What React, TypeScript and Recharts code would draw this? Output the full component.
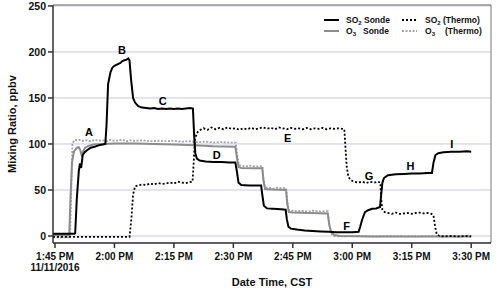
import { LineChart, Line, XAxis, YAxis, CartesianGrid, ReferenceLine, ReferenceDot, Label } from "recharts";

// minutes after 1:45 PM, ppbv
const so2Sonde: [number, number][] = [
  [-0.5, 2.5], [1, 2.5], [3, 2.5], [4.9, 2.5], [5.1, 3], [5.5, 40], [6, 70], [6.3, 79], [6.6, 74], [7, 88], [7.5, 91],
  [8, 93], [9, 96], [10, 97], [11, 98.5], [12, 99.5], [12.7, 100], [13, 120], [13.4, 165], [14, 178], [14.5, 183],
  [15, 185], [15.5, 186], [16, 187], [16.5, 188], [17, 190], [17.5, 191], [18, 191.5], [18.5, 193], [18.8, 191],
  [19.2, 170], [19.7, 150], [20.2, 145], [21, 141], [22, 139.5], [23, 139], [24, 138.5], [25, 139], [26, 138],
  [27, 138.5], [28, 138], [29, 138.5], [30, 138], [31, 138.5], [32, 138], [33, 138.5], [34, 139], [34.8, 138.5],
  [35.1, 110], [35.4, 90], [35.8, 84], [36.5, 82], [38, 81], [40, 80.5], [42, 80.5], [44, 80], [45.5, 80],
  [45.9, 70], [46.3, 58], [47, 55.5], [49, 55], [51, 55], [52, 55], [52.3, 45], [52.7, 33], [53.5, 30], [55, 29.5],
  [57, 29], [58.2, 28.5], [58.5, 18], [58.9, 10], [59.5, 8], [61, 7], [63, 6], [65, 5.5], [67, 5], [69, 4.5],
  [71, 4], [73, 4], [75, 4], [76.6, 4.5], [77, 10], [77.5, 18], [78.2, 26], [79, 28], [80, 29.5], [81, 30],
  [82, 31.5], [82.3, 45], [82.6, 58], [83, 63], [84, 66], [86, 67], [88, 67.5], [90, 68], [92, 68], [94, 68.5],
  [95.1, 68.5], [95.5, 80], [96, 88], [96.7, 90], [98, 91], [100, 91.5], [102, 91.5], [104, 92], [105, 91.5],
];

const o3Sonde: [number, number][] = [
  [-0.5, 1], [3.6, 1], [3.9, 40], [4.3, 80], [4.8, 92], [5.5, 96], [6, 96.5], [6.4, 93], [6.7, 88], [7.1, 92],
  [7.6, 96], [8.5, 98], [9.7, 99.5], [12, 100], [15, 100.5], [20, 100.5], [25, 100], [30, 99.5], [35, 98.5],
  [40, 97.5], [45.5, 97], [45.9, 85], [46.3, 75], [47, 74], [50, 73.5], [52.3, 73.5], [52.6, 60], [53, 51],
  [55, 50.5], [58.3, 50], [58.6, 35], [59, 26], [60, 25.5], [64, 25], [68.8, 24.5], [69.2, 12], [69.7, 4],
  [70.5, 1], [72, 0], [80, -0.5], [90, -0.5], [100, -0.5], [105, -0.5],
];

const so2Thermo: [number, number][] = [
  [-0.5, -1], [5, -1], [10, -1], [15, -1], [18.8, -1], [19.3, 20], [19.7, 45], [20.2, 54], [21, 55], [22, 56],
  [23, 55.5], [24, 57], [25, 56], [26, 57.5], [27, 56.5], [28, 57], [29, 58], [30, 57], [31, 59], [32, 58],
  [33, 57.5], [34, 58.5], [34.7, 59], [35, 80], [35.3, 105], [35.8, 112], [36.5, 115], [37.5, 117], [38.5, 115.5],
  [39.5, 118], [40.5, 116], [41.5, 117.5], [42.5, 116], [43.5, 118], [44.5, 116.5], [45.5, 117], [46.5, 115.5],
  [47.5, 117], [48.5, 116], [49.5, 117.5], [50.5, 116], [51.5, 117], [52.5, 118], [53.5, 116.5], [54.5, 117.5],
  [55.5, 116], [56.5, 118], [57.5, 117], [58.5, 116], [59.5, 117.5], [60.5, 116.5], [61.5, 117], [62.5, 116],
  [63.5, 117.5], [64.5, 116], [65.5, 117], [66.5, 116.5], [67.5, 117.5], [68.5, 116], [69.5, 117], [70.5, 116.5],
  [71.5, 117], [72.5, 116.5], [73, 116], [73.3, 95], [73.6, 75], [74, 65], [74.5, 61], [75.5, 59], [76.5, 58],
  [77.5, 59], [78.5, 57.5], [79.5, 59], [80.5, 58], [81.5, 59], [82.1, 58], [82.3, 40], [82.6, 28], [83.2, 26],
  [84, 25], [85, 24], [86, 25.5], [87, 24], [88, 24.5], [89, 25], [90, 24], [91, 25], [92, 25.5], [93, 24.5],
  [94, 25], [95, 24], [95.5, 22], [95.9, 10], [96.3, 2], [97, 0], [98, -0.5], [100, 0], [102, -0.5], [104, 0],
  [105, -0.5],
];

const o3Thermo: [number, number][] = [
  [-0.5, -1.5], [3.8, -1.5], [4.1, 50], [4.4, 100], [4.8, 104], [6, 104.5], [7, 103.5], [8, 104], [9, 103],
  [10, 104.5], [11, 103.5], [12, 104], [13, 103], [14, 104.5], [15, 103.5], [16, 104], [17, 104.5], [18, 103],
  [19, 104], [20, 103.5], [22, 104], [24, 103], [26, 103.5], [28, 103], [30, 103.5], [32, 102.5], [34, 103],
  [36, 102], [38, 102.5], [40, 101.5], [42, 102], [44, 101.5], [45.6, 101.5], [46, 88], [46.4, 77], [47, 76.5],
  [48, 75.5], [49, 76.5], [50, 76], [51, 75.5], [52.3, 76], [52.6, 62], [53, 53], [54, 52.5], [55, 51.5],
  [56, 52.5], [57, 52], [58.3, 52], [58.6, 38], [59, 28], [60, 27.5], [61, 26.5], [62, 27.5], [63, 27],
  [64, 26.5], [65, 27.5], [66, 27], [67, 26.5], [68.8, 27], [69.2, 14], [69.6, 3], [70.3, 0], [72, -0.5],
  [75, 0], [80, -0.5], [85, 0], [90, -0.5], [95, 0], [100, -0.5], [105, 0],
];

const xTicks = [0, 15, 30, 45, 60, 75, 90, 105];
const xTickLabels = ["1:45 PM", "2:00 PM", "2:15 PM", "2:30 PM", "2:45 PM", "3:00 PM", "3:15 PM", "3:30 PM"];
const yTicks = [0, 50, 100, 150, 200, 250];

const letters = ["A", "B", "C", "D", "E", "F", "G", "H", "I"];
const letterT = [8.6, 16.9, 27.2, 40.8, 58.7, 73.6, 79.2, 89.7, 100.1];
const letterV = [113, 202, 147, 88, 106, 11, 65, 76, 100];

const toRows = (pts: [number, number][]) => pts.map(([t, v]) => ({ t, v }));

const FONT = "'Liberation Sans', Arial, sans-serif";

const XTick = (props: any) => {
  const { x, y, payload } = props;
  const i = xTicks.indexOf(payload.value);
  return (
    <g>
      <text x={x} y={y + 10} textAnchor="middle" fontSize={10} fontWeight="bold" fill="#111" fontFamily={FONT}>
        {xTickLabels[i]}
      </text>
      {i === 0 && (
        <text x={x} y={y + 21} textAnchor="middle" fontSize={10} fontWeight="bold" fill="#111" fontFamily={FONT}>
          11/11/2016
        </text>
      )}
    </g>
  );
};

export default function App() {
  return (
    <div style={{ position: "absolute", left: 0, top: 0, width: 500, height: 291, background: "#fff" }}>
      <LineChart width={500} height={291} margin={{ top: 5, right: 9, bottom: 0, left: 0 }}>
        <CartesianGrid vertical={false} stroke="#c9c9e4" strokeWidth={1} />
        <XAxis
          dataKey="t"
          type="number"
          domain={[-0.5, 110]}
          ticks={xTicks}
          height={48}
          tick={<XTick />}
          tickSize={5}
          stroke="#333"
          strokeWidth={1.5}
          allowDataOverflow
        >
          <Label
            content={(p: any) => {
              const vb = p.viewBox;
              return (
                <text x={vb.x + vb.width / 2} y={vb.y + 43} textAnchor="middle" fontSize={11} fontWeight="bold" fill="#111" fontFamily={FONT}>
                  Date Time, CST
                </text>
              );
            }}
          />
        </XAxis>
        <YAxis
          type="number"
          domain={[-7.6, 251]}
          ticks={yTicks}
          width={53}
          tickSize={5}
          stroke="#333"
          strokeWidth={1.5}
          tick={{ fontSize: 10.5, fontWeight: "bold", fill: "#111", fontFamily: FONT }}
          allowDataOverflow
        >
          <Label
            content={(p: any) => {
              const vb = p.viewBox;
              const cx = vb.x + 12;
              const cy = vb.y + vb.height / 2;
              return (
                <text x={cx} y={cy} transform={`rotate(-90, ${cx}, ${cy})`} textAnchor="middle" dominantBaseline="central" fontSize={11} fontWeight="bold" fill="#111" fontFamily={FONT}>
                  Mixing Ratio, ppbv
                </text>
              );
            }}
          />
        </YAxis>
        <ReferenceLine y={251} stroke="#777" strokeWidth={1} />
        <ReferenceLine x={110} stroke="#777" strokeWidth={1} />
        <Line data={toRows(o3Thermo)} dataKey="v" stroke="#a3a3a3" strokeWidth={1.8} strokeDasharray="2 1.5" dot={false} isAnimationActive={false} />
        <Line data={toRows(o3Sonde)} dataKey="v" stroke="#8c8c8c" strokeWidth={2} dot={false} isAnimationActive={false} />
        <Line data={toRows(so2Thermo)} dataKey="v" stroke="#000" strokeWidth={1.8} strokeDasharray="2 2" dot={false} isAnimationActive={false} />
        <Line data={toRows(so2Sonde)} dataKey="v" stroke="#000" strokeWidth={2} dot={false} isAnimationActive={false} />
        {letters.map((l, i) => (
          <ReferenceDot
            key={l}
            x={letterT[i]}
            y={letterV[i]}
            r={0}
            shape={(p: any) => (
              <text x={p.cx} y={p.cy} textAnchor="middle" dominantBaseline="central" fontSize={11} fontWeight="bold" fill="#000" fontFamily={FONT}>
                {l}
              </text>
            )}
          />
        ))}
      </LineChart>
      <svg width={500} height={291} style={{ position: "absolute", left: 0, top: 0, pointerEvents: "none" }}>
        <g fontFamily={FONT} fontWeight="bold" fontSize={8.5} fill="#111">
          <line x1={324} x2={339} y1={20} y2={20} stroke="#000" strokeWidth={2} />
          <text x={346} y={23}>SO<tspan fontSize={6} dy={2}>2</tspan><tspan dy={-2}> Sonde</tspan></text>
          <line x1={402} x2={417} y1={20} y2={20} stroke="#000" strokeWidth={1.8} strokeDasharray="2 2" />
          <text x={425} y={23}>SO<tspan fontSize={6} dy={2}>2</tspan><tspan dy={-2}> (Thermo)</tspan></text>
          <line x1={324} x2={339} y1={31} y2={31} stroke="#8c8c8c" strokeWidth={2} />
          <text x={346} y={34}>O<tspan fontSize={6} dy={2}>3</tspan></text>
          <text x={363} y={34}>Sonde</text>
          <line x1={402} x2={417} y1={31} y2={31} stroke="#a3a3a3" strokeWidth={1.8} strokeDasharray="2 1.5" />
          <text x={425} y={34}>O<tspan fontSize={6} dy={2}>3</tspan></text>
          <text x={445} y={34}>(Thermo)</text>
        </g>
      </svg>
    </div>
  );
}
